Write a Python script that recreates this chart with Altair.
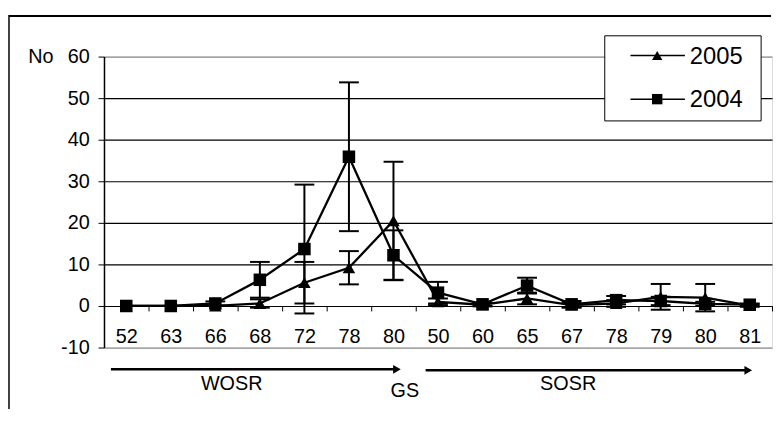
import json
import altair as alt
import pandas as pd

# ---------------- data ----------------
stage_labels = ["52", "63", "66", "68", "72", "78", "80", "50", "60", "65", "67", "78", "79", "80", "81"]
series_names = ["2005", "2004"]
series_shapes = ["triangle-up", "square"]

mean_2005 = [0.0, 0.0, 0.0, 0.6, 5.6, 9.2, 20.5, 1.0, 0.3, 1.8, 0.2, 0.6, 2.2, 2.0, 0.1]
err_2005 = [0.0, 0.0, 0.0, 1.0, 5.0, 4.0, 14.2, 0.8, 0.4, 1.4, 0.5, 0.8, 3.1, 3.3, 0.3]
mean_2004 = [0.0, 0.0, 0.6, 6.3, 13.7, 35.9, 12.2, 3.2, 0.4, 4.9, 0.4, 1.4, 1.2, 0.5, 0.3]
err_2004 = [0.0, 0.0, 0.5, 4.3, 15.5, 17.9, 6.0, 2.6, 0.4, 1.9, 0.8, 1.0, 1.0, 0.5, 0.3]

y_ticks = [-10, 0, 10, 20, 30, 40, 50, 60]
y_title = "No"
phase_labels = ["WOSR", "GS", "SOSR"]

FONT = "Liberation Sans, Arial, sans-serif"

rows = []
for name, means, errs in [("2005", mean_2005, err_2005), ("2004", mean_2004, err_2004)]:
    for i, (m, e) in enumerate(zip(means, errs)):
        rows.append({"idx": i, "series": name, "mean": m, "lo": m - e, "hi": m + e, "err": e})
df = pd.DataFrame(rows)

W, H = 675, 294

xscale = alt.Scale(type="band", paddingInner=0, paddingOuter=0)
yscale = alt.Scale(domain=[-10, 60], nice=False, zero=False)

x_axis = alt.Axis(
    title=None,
    labelExpr=json.dumps(stage_labels) + "[datum.value]",
    labelAngle=0,
    labelFont=FONT, labelFontSize=20, labelColor="black",
    tickBand="extent", tickSize=5, tickColor="black", tickWidth=1,
    domainColor="black", domainWidth=1.2,
    offset=-42, labelPadding=16, grid=False,
)
y_axis = alt.Axis(
    values=y_ticks,
    labelExpr="datum.value + ''",
    title=y_title, titleAngle=0, titleAlign="left", titleBaseline="middle",
    titleX=-77, titleY=0, titleFont=FONT, titleFontSize=20, titleFontWeight="normal",
    titleColor="black",
    labelFont=FONT, labelFontSize=20, labelColor="black",
    tickSize=6, tickColor="black", labelPadding=9,
    domainColor="black", domainWidth=1.5,
    grid=True, gridWidth=1.2,
    gridColor=alt.condition("datum.value == 60 || datum.value == -10", alt.value("#8c8c8c"), alt.value("black")),
)

base = alt.Chart(df)
X = alt.X("idx:O", scale=xscale, axis=x_axis)

err = df[df["err"] > 0]
err_base = alt.Chart(err)
err_rule = err_base.mark_rule(color="black", strokeWidth=2).encode(
    x=alt.X("idx:O", scale=xscale), y=alt.Y("lo:Q", scale=yscale), y2="hi:Q")
err_lo = err_base.mark_tick(color="black", thickness=2, size=20, opacity=1).encode(
    x=alt.X("idx:O", scale=xscale), y=alt.Y("lo:Q", scale=yscale))
err_hi = err_base.mark_tick(color="black", thickness=2, size=20, opacity=1).encode(
    x=alt.X("idx:O", scale=xscale), y=alt.Y("hi:Q", scale=yscale))

lines = base.mark_line(color="black", strokeWidth=2.3).encode(
    x=X, y=alt.Y("mean:Q", scale=yscale, axis=y_axis), detail="series:N")
points = base.mark_point(filled=True, color="black", opacity=1, size=160).encode(
    x=alt.X("idx:O", scale=xscale),
    y=alt.Y("mean:Q", scale=yscale),
    shape=alt.Shape("series:N", scale=alt.Scale(domain=series_names, range=series_shapes), legend=None),
)

one = pd.DataFrame({"a": [0]})
# outer frame top, placed through the y scale (41 px above the 60 line)
frame_df = pd.DataFrame({"top": [60 + 41 / 4.2]})

frame_top = alt.Chart(frame_df).mark_rule(color="black", strokeWidth=2).encode(
    x=alt.value(-96), x2=alt.value(674), y=alt.Y("top:Q", scale=yscale))
frame_left = alt.Chart(one).mark_rule(color="black", strokeWidth=1.5).encode(
    x=alt.value(-96), y=alt.value(-42), y2=alt.value(500))

# legend (decoration)
legend_layers = [
    alt.Chart(one).mark_rect(fill="white", stroke="black", strokeWidth=1).encode(
        x=alt.value(506), x2=alt.value(664), y=alt.value(-21), y2=alt.value(65))
]
for name, shape, ly in zip(series_names, series_shapes, [-1, 43]):
    ldf = pd.DataFrame({"series": [name]})
    legend_layers.append(alt.Chart(ldf).mark_rule(color="black", strokeWidth=1.5).encode(
        x=alt.value(532), x2=alt.value(587), y=alt.value(ly)))
    legend_layers.append(alt.Chart(ldf).mark_point(shape=shape, filled=True, color="black", opacity=1, size=110).encode(
        x=alt.value(559), y=alt.value(ly)))
    legend_layers.append(alt.Chart(ldf).mark_text(font=FONT, fontSize=24, align="left", baseline="middle", color="black").encode(
        x=alt.value(592), y=alt.value(ly + 1), text="series:N"))

# growth-stage arrows and labels (decoration)
ann = []
for x0, x1, yy in [(7, 300, 316), (325, 655, 317)]:
    ann.append(alt.Chart(one).mark_rule(color="black", strokeWidth=2.5).encode(
        x=alt.value(x0), x2=alt.value(x1 - 4), y=alt.value(yy)))
    ann.append(alt.Chart(one).mark_point(shape="triangle-right", filled=True, color="black", opacity=1, size=80).encode(
        x=alt.value(x1 - 4), y=alt.value(yy)))
for lab, xx, yy in zip(phase_labels, [129, 304, 469], [331, 338, 331]):
    ann.append(alt.Chart(pd.DataFrame({"t": [lab]})).mark_text(font=FONT, fontSize=20, align="center", baseline="middle", color="black").encode(
        x=alt.value(xx), y=alt.value(yy), text="t:N"))

chart = alt.layer(
    lines, err_rule, err_lo, err_hi, points, *legend_layers, *ann, frame_left, frame_top
).properties(
    width=W, height=H,
    autosize=alt.AutoSizeParams(type="none"),
    padding={"left": 97, "top": 47, "right": 1, "bottom": 60},
    background="white",
).configure_view(stroke=None).configure(font=FONT)

chart.save("out.html", embed_options={"renderer": "svg", "actions": False})
